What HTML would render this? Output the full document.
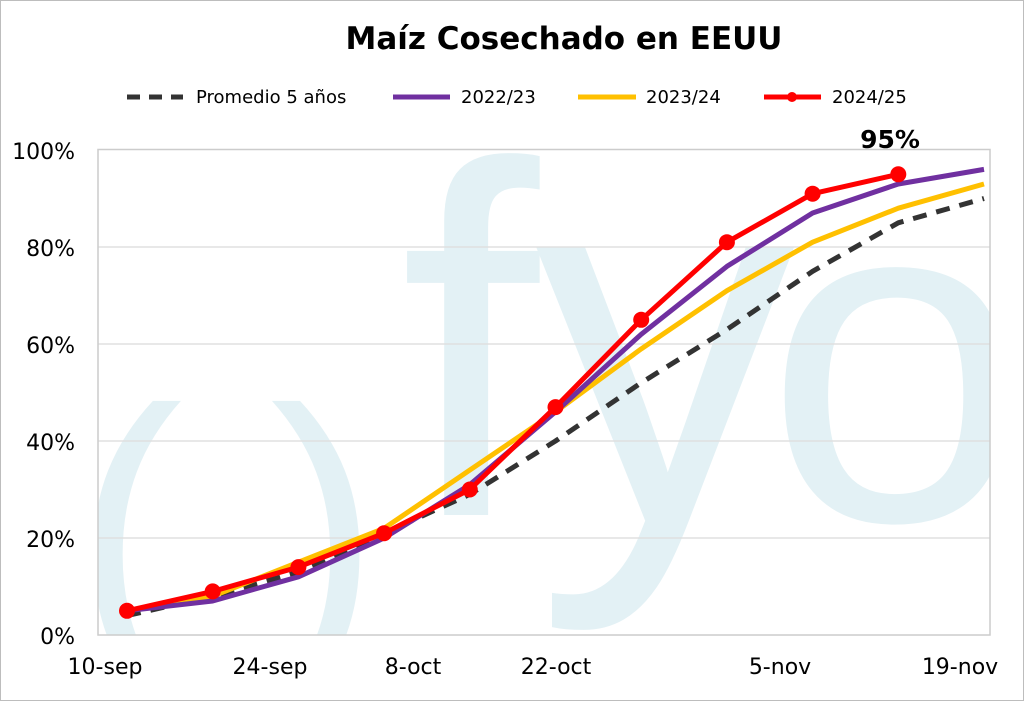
<!DOCTYPE html>
<html><head><meta charset="utf-8"><style>body{margin:0;background:#fff}svg{display:block}text{font-family:"DejaVu Sans","Liberation Sans",sans-serif}</style></head><body>
<svg width="1024" height="701" viewBox="0 0 1024 701">
<defs><clipPath id="pc"><rect x="98" y="149" width="892" height="486"/></clipPath></defs>
<rect x="0.5" y="0.5" width="1023" height="700" fill="#fff" stroke="#bdbdbd"/>
<g clip-path="url(#pc)" fill="#e3f1f5">
<text x="400" y="515" font-size="500" style="font-family:'Liberation Sans',sans-serif">f</text>
<text x="535" y="522" font-size="520" style="font-family:'Liberation Sans',sans-serif">y</text>
<text x="765" y="520" font-size="470" style="font-family:'Liberation Sans',sans-serif">o</text>
<text x="73" y="640" font-size="330" style="font-family:'Liberation Sans',sans-serif">(</text>
<text x="270" y="640" font-size="330" style="font-family:'Liberation Sans',sans-serif">)</text>
</g>
<g stroke="#e0e0e0" stroke-width="1.5">
<line x1="98" y1="247" x2="990" y2="247"/><line x1="98" y1="344" x2="990" y2="344"/><line x1="98" y1="441" x2="990" y2="441"/><line x1="98" y1="538" x2="990" y2="538"/>
</g>
<rect x="98" y="149.5" width="892" height="485.5" fill="none" stroke="#cccccc" stroke-width="1.5"/>
<g font-size="22" fill="#000" text-anchor="end">
<text x="75" y="159">100%</text><text x="75" y="256">80%</text><text x="75" y="353">60%</text><text x="75" y="450">40%</text><text x="75" y="547">20%</text><text x="75" y="644">0%</text>
</g>
<g font-size="22" fill="#000" text-anchor="middle">
<text x="105" y="674">10-sep</text><text x="270" y="674">24-sep</text><text x="413" y="674">8-oct</text><text x="556" y="674">22-oct</text><text x="780" y="674">5-nov</text><text x="960" y="674">19-nov</text>
</g>
<text x="564" y="49" font-size="31" font-weight="bold" text-anchor="middle">Maíz Cosechado en EEUU</text>
<g font-size="18">
<line x1="127" y1="97" x2="183" y2="97" stroke="#333" stroke-width="5" stroke-dasharray="13,9"/><text x="196" y="103">Promedio 5 años</text>
<line x1="393" y1="97" x2="450" y2="97" stroke="#7030a0" stroke-width="5"/><text x="461" y="103">2022/23</text>
<line x1="578" y1="97" x2="636" y2="97" stroke="#ffc000" stroke-width="5"/><text x="646" y="103">2023/24</text>
<line x1="764" y1="97" x2="821" y2="97" stroke="#ff0000" stroke-width="5"/><circle cx="792" cy="97" r="5" fill="#ff0000"/><text x="832" y="103">2024/25</text>
</g>
<g fill="none" stroke-width="5" stroke-linejoin="round">
<polyline stroke="#333" stroke-dasharray="14,10" points="127,615.6 212.7,596.2 298.4,572 384.1,533.2 469.8,494.4 555.5,441 641.2,382.8 726.9,329.5 812.6,271.3 898.3,222.8 984,198.5"/>
<polyline stroke="#ffc000" points="127,610.8 212.7,596.2 298.4,562.2 384.1,528.3 469.8,470.1 555.5,411.9 641.2,348.9 726.9,290.7 812.6,242.2 898.3,208.2 984,184"/>
<polyline stroke="#7030a0" points="127,610.8 212.7,601 298.4,576.8 384.1,538 469.8,484.7 555.5,411.9 641.2,334.3 726.9,266.4 812.6,213 898.3,184 984,169.4"/>
<polyline stroke="#ff0000" points="127,610.8 212.7,591.4 298.4,567.1 384.1,533.2 469.8,489.5 555.5,407.1 641.2,319.8 726.9,242.2 812.6,193.7 898.3,174.3"/>
</g>
<g fill="#ff0000">
<circle cx="127" cy="610.8" r="8"/><circle cx="212.7" cy="591.4" r="8"/><circle cx="298.4" cy="567.1" r="8"/><circle cx="384.1" cy="533.2" r="8"/><circle cx="469.8" cy="489.5" r="8"/><circle cx="555.5" cy="407.1" r="8"/><circle cx="641.2" cy="319.8" r="8"/><circle cx="726.9" cy="242.2" r="8"/><circle cx="812.6" cy="193.7" r="8"/><circle cx="898.3" cy="174.3" r="8"/>
</g>
<text x="890" y="148" font-size="25" font-weight="bold" text-anchor="middle">95%</text>
</svg>
</body></html>
